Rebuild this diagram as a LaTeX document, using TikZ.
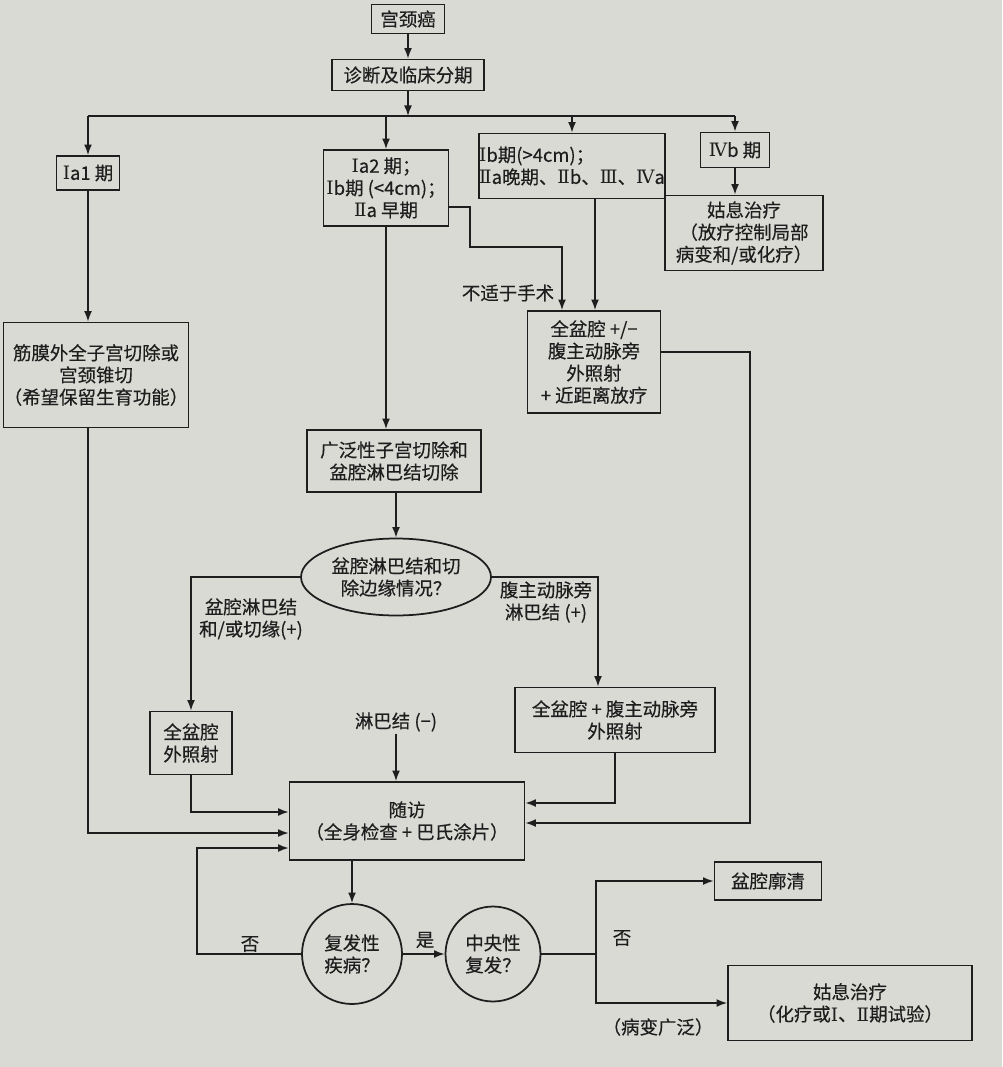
\documentclass[tikz,border=0pt]{standalone}
\usepackage{fontspec}
\setmainfont{Noto Sans CJK SC}[FakeBold=0.4]
\newfontfamily\rnf{DejaVu Serif}
\newcommand{\RN}[1]{{\rnf #1}}
\usetikzlibrary{arrows.meta,shapes.geometric}
\definecolor{paper}{RGB}{218,218,213}
\definecolor{ink}{RGB}{30,30,30}
\begin{document}
\begin{tikzpicture}[x=0.02cm,y=-0.02cm,
  every node/.style={font=\fontsize{10.5}{12.6}\selectfont, text=ink},
  box/.style={draw=ink, line width=1pt, align=center, inner sep=0pt},
  rnd/.style={draw=ink, line width=1pt, align=center, inner sep=0pt},
  lbl/.style={align=center, inner sep=1pt},
  conn/.style={draw=ink, line width=0.9pt},
  arr/.style={conn, -{Latex[length=6pt,width=4.5pt]}}]
\fill[paper] (0,0) rectangle (1002,1067);
\useasboundingbox (0,0) rectangle (1002,1067);

% nodes
\node[box, minimum width=1.46cm, minimum height=0.58cm] (gj) at (408,19) {宫颈癌};
\node[box, minimum width=3.04cm, minimum height=0.62cm] (zd) at (408,75) {诊断及临床分期};
\coordinate (bus) at (408,116);
\node[box, minimum width=1.26cm, minimum height=0.68cm] (ia1) at (88,173) {\RN{Ⅰ}a1 期};
\node[box, minimum width=2.5cm, minimum height=1.52cm] (ia2) at (386,188) {\RN{Ⅰ}a2 期；\\\RN{Ⅰ}b期 (<4cm)；\\\RN{Ⅱ}a 早期};
\node[box, minimum width=3.58cm, minimum height=1.3cm, align=left] (ib) at (572,166) {\RN{Ⅰ}b期(>4cm)；\\\RN{Ⅱ}a晚期、\RN{Ⅱ}b、\RN{Ⅲ}、\RN{Ⅳ}a};
\node[box, minimum width=1.38cm, minimum height=0.7cm] (ivb) at (735,150) {\RN{Ⅳ}b 期};
\node[box, minimum width=3.16cm, minimum height=1.5cm] (gx1) at (744,233) {姑息治疗\\（放疗控制局部\\病变和/或化疗）};
\node[box, minimum width=3.7cm, minimum height=2.1cm] (jm) at (96,375) {筋膜外全子宫切除或\\宫颈锥切\\（希望保留生育功能）};
\node[box, minimum width=2.66cm, minimum height=2.04cm] (qp1) at (594,362) {全盆腔 +/−\\腹主动脉旁\\外照射\\+ 近距离放疗};
\node[box, minimum width=3.48cm, minimum height=1.24cm] (gf) at (394,461) {广泛性子宫切除和\\盆腔淋巴结切除};
\node[rnd, ellipse, minimum width=3.8cm, minimum height=1.54cm] (el) at (396,577) {盆腔淋巴结和切\\除边缘情况？};
\node[box, minimum width=1.64cm, minimum height=1.26cm] (qp2) at (191,743) {全盆腔\\外照射};
\node[box, minimum width=4.0cm, minimum height=1.3cm] (qp3) at (615,720) {全盆腔 + 腹主动脉旁\\外照射};
\node[lbl] (lbm) at (396,722) {淋巴结 (−)};
\node[box, minimum width=4.7cm, minimum height=1.56cm] (sf) at (407,821) {随访\\（全身检查 + 巴氏涂片）};
\node[rnd, circle, minimum size=2.0cm] (ff) at (352,954) {复发性\\疾病？};
\node[rnd, circle, minimum size=1.9cm] (zy) at (493,954) {中央性\\复发？};
\node[box, minimum width=2.14cm, minimum height=0.76cm] (pq) at (768,881) {盆腔廓清};
\node[box, minimum width=4.88cm, minimum height=1.5cm] (gx2) at (850,1003) {姑息治疗\\（化疗或\RN{Ⅰ}、\RN{Ⅱ}期试验）};

% labels
\node[lbl] (l1) at (508,293) {不适于手术};
\node[lbl] (l2) at (251,619) {盆腔淋巴结\\和/或切缘(+)};
\node[lbl] (l3) at (546,602) {腹主动脉旁\\淋巴结 (+)};
\node[lbl] (l4) at (250,944) {否};
\node[lbl] (l5) at (425,940) {是};
\node[lbl] (l6) at (622,938) {否};
\node[lbl] (l7) at (658,1027) {（病变广泛）};

% connectors
\draw[arr] (gj.south) -- (gj.south |- zd.north);
\draw[arr] (zd.south) -- (bus);
\draw[conn] (ia1.north |- bus) -- (ivb.north |- bus);
\draw[arr] (ia1.north |- bus) -- (ia1.north);
\draw[arr] (ia2.north |- bus) -- (ia2.north);
\draw[arr] (ib.north |- bus) -- (ib.north);
\draw[arr] (ivb.north |- bus) -- (ivb.north);
\draw[arr] (ivb.south) -- (ivb.south |- gx1.north);
\draw[arr] (ia1.south) -- (ia1.south |- jm.north);
\draw[arr] (ia1.south |- jm.south) -- (ia1.south |- 0,833) -- (sf.west |- 0,833);
\draw[arr] (ia2.east |- 0,207) -- (470,207) -- (470,247) -- (562,247) -- (562,0 |- qp1.north);
\draw[arr] (595,0 |- ib.south) -- (595,0 |- qp1.north);
\draw[arr] (ia2.south) -- (ia2.south |- gf.north);
\draw[arr] (gf.south -| el.north) -- (el.north);
\draw[arr] (el.west) -| (qp2.north);
\draw[arr] (el.east) -- (598,0 |- el.east) -- (598,0 |- qp3.north);
\draw[arr] (lbm.south) -- (lbm.south |- sf.north);
\draw[arr] (qp2.south) -- (qp2.south |- 0,812) -- (sf.west |- 0,812);
\draw[arr] (qp3.south) -- (qp3.south |- 0,803) -- (sf.east |- 0,803);
\draw[arr] (qp1.east |- 0,352) -- (750,352) -- (750,823) -- (sf.east |- 0,823);
\draw[arr] (ff.north |- sf.south) -- (ff.north);
\draw[arr] (ff.west) -| (197,848) -- (sf.west |- 0,848);
\draw[arr] (ff.east) -- (zy.west);
\draw[conn] (zy.east) -- (596,0 |- zy.east);
\draw[arr] (596,0 |- zy.east) |- (pq.west);
\draw[arr] (596,0 |- zy.east) |- (gx2.west);
\end{tikzpicture}
\end{document}
